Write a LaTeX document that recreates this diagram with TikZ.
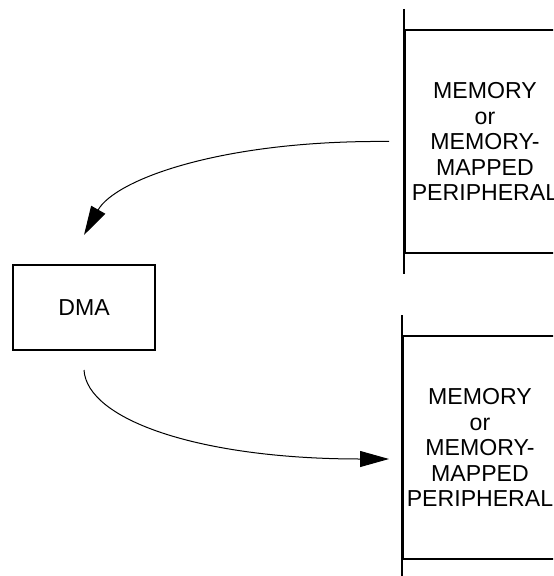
\documentclass[tikz,border=0pt]{standalone}
\usepackage{fontspec}
\setmainfont{Liberation Sans}
\usetikzlibrary{arrows.meta}

\begin{document}
\begin{tikzpicture}[x=0.5pt,y=-0.5pt,
        box/.style={draw, line width=1pt, inner sep=0pt, align=center,
            font=\fontsize{11.55}{12.75}\selectfont},
        flow/.style={line width=0.5pt, -{Triangle[length=14.5pt,width=8pt]}}]
    \useasboundingbox (0,0) rectangle (553,576);
    \clip (0,0) rectangle (553,576);

    \node[box, minimum width=71pt, minimum height=42.5pt] (dma) at (84,307.5) {DMA};

    \node[box, minimum width=80pt, minimum height=111.5pt] (memtop) at (485,141.5)
        {MEMORY\\or\\MEMORY-\\MAPPED\\PERIPHERAL};
    \draw[line width=1pt] ([yshift=10pt]memtop.north west) -- ([yshift=-10pt]memtop.south west);

    \node[box, minimum width=77pt, minimum height=111.5pt] (membot) at (480,447.5)
        {MEMORY\\or\\MEMORY-\\MAPPED\\PERIPHERAL};
    \draw[line width=1pt] ([yshift=10pt]membot.north west) -- ([yshift=-12pt]membot.south west);

    \draw[flow] ([xshift=-7.5pt]memtop.west) .. controls (220,140) and (115,180) .. ([yshift=14.5pt]dma.north);
    \draw[flow] ([yshift=-9.5pt]dma.south) .. controls (87,420) and (200,459) .. ([shift={(-6.5pt,-5.75pt)}]membot.west);
\end{tikzpicture}
\end{document}
